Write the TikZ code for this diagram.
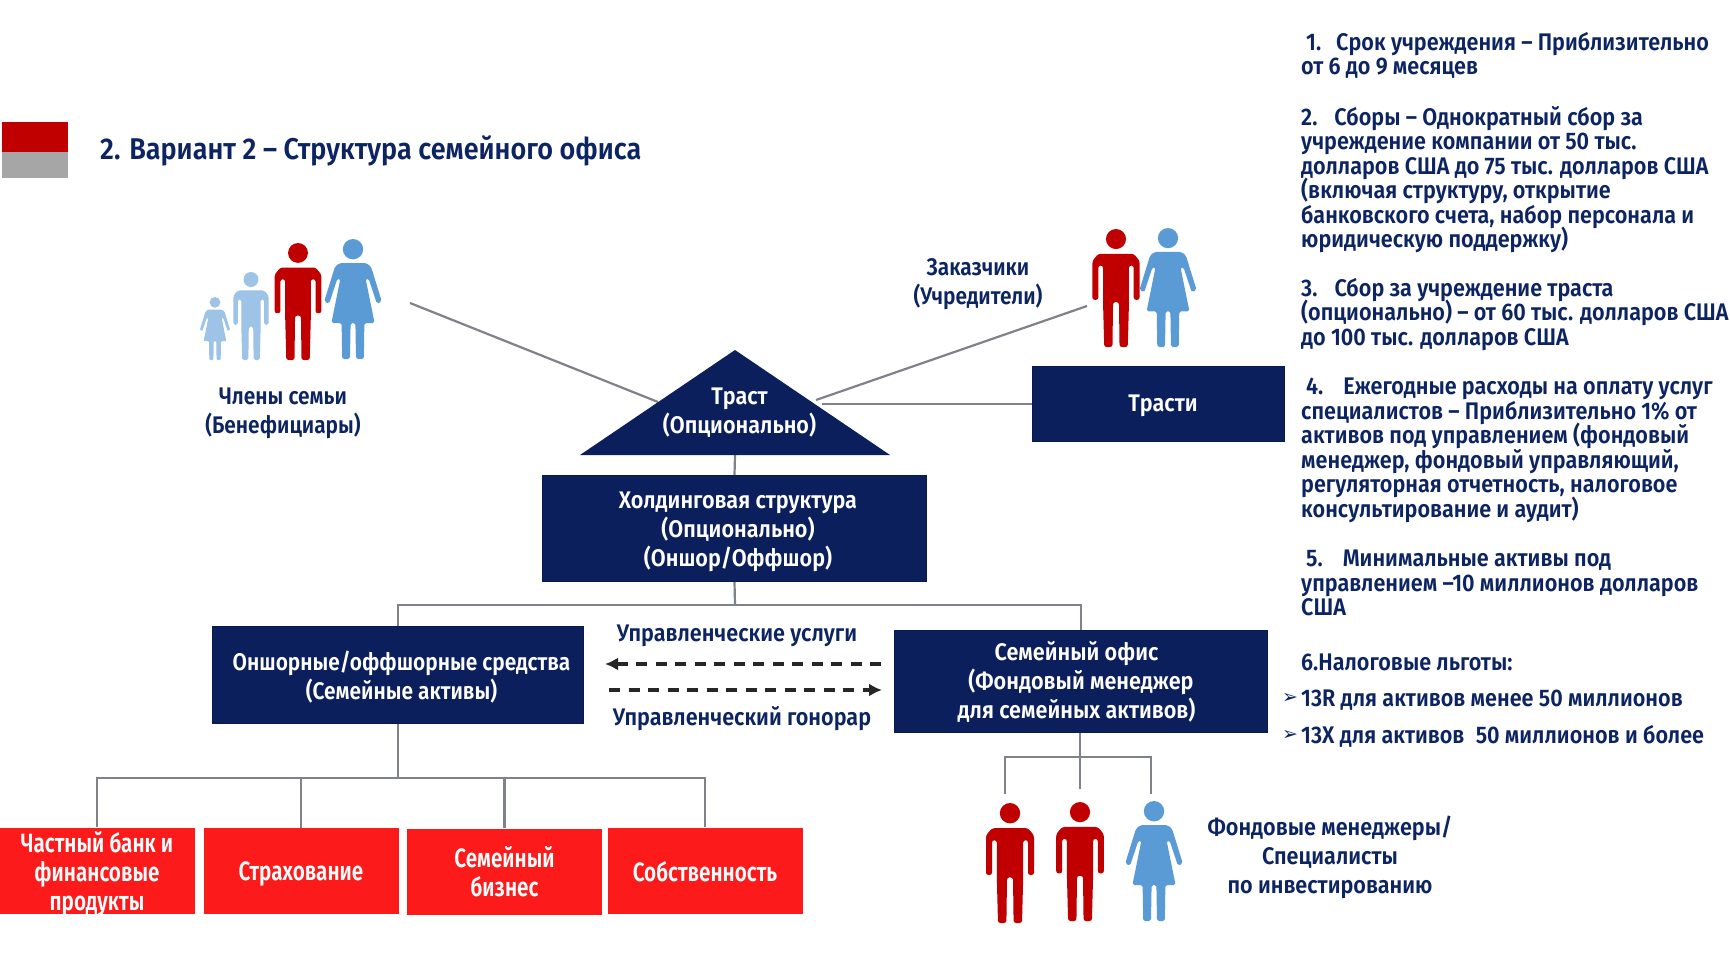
\documentclass[tikz,border=0pt]{standalone}
\usepackage{fontspec}
\setmainfont[FakeStretch=0.9]{Fira Sans SemiBold}
\newfontfamily\tightf[FakeStretch=0.87]{Fira Sans SemiBold}
\newfontfamily\narrowf[FakeStretch=0.78]{Fira Sans SemiBold}
\newfontfamily\symf{DejaVu Sans}
\usetikzlibrary{arrows.meta}
\definecolor{navy}{HTML}{0B1F5C}
\definecolor{ink}{HTML}{0C2461}
\definecolor{redbox}{HTML}{FD1A1A}
\definecolor{manred}{HTML}{C00000}
\definecolor{wblue}{HTML}{5B9BD5}
\definecolor{lblue}{HTML}{9DC3E6}
\definecolor{linkgray}{HTML}{7F8288}
\newcommand{\tallrule}[1]{\rule{0pt}{#1pt}}
\newcommand{\fixedlines}{\lineskiplimit=-20pt\relax}
\tikzset{
  navybox/.style={fill=navy,draw=navy!85!black,line width=1pt,text=white,align=center,font=\fontsize{24}{29}\selectfont\fixedlines,inner sep=0pt},
  redcard/.style={fill=redbox,text=white,align=center,font=\narrowf\fontsize{26.5}{29}\selectfont\fixedlines,inner xsep=0pt,inner ysep=-4pt,minimum height=86pt,minimum width=195pt},
  label/.style={text=ink,align=center,font=\fontsize{24}{29}\selectfont\fixedlines,inner sep=0pt},
  tightlabel/.style={label,font=\tightf\fontsize{24}{29}\selectfont\fixedlines},
  para/.style={text=ink,align=left,anchor=north west,font=\fontsize{24}{24.5}\selectfont\fixedlines,inner sep=0pt},
  link/.style={draw=linkgray,line width=2.2pt},
  dashlink/.style={draw=black!85,line width=3.4pt,dash pattern=on 11pt off 8.5pt,-{Latex[length=13pt,width=13pt]}}
}
\newcommand{\manfig}[5]{% name, x, top, bottom, colour
  \begin{scope}[shift={(#2,#3)},x=#4pt/100,y=-#4pt/100]
    \fill[#5] (0,8.5) circle (8.5);
    \fill[#5,rounded corners=#4pt*0.02] (-20,60) -- (-20,27) -- (-15,21) -- (15,21) -- (20,27) -- (20,60) -- (15,60) -- (15,31) -- (11,31) -- (11,62) -- (10,100) -- (3,100) -- (2.5,62) -- (-2.5,62) -- (-3,100) -- (-10,100) -- (-11,62) -- (-11,31) -- (-15,31) -- (-15,60) -- cycle;
    \coordinate (#1) at (0,0);
  \end{scope}}
\newcommand{\womanfig}[5]{%
  \begin{scope}[shift={(#2,#3)},x=#4pt/100,y=-#4pt/100]
    \fill[#5] (0,8.5) circle (8.5);
    \fill[#5,rounded corners=#4pt*0.015] (-11,20) -- (11,20) -- (15,23) -- (24,52) -- (20,54) -- (13,33) -- (10.5,33) -- (18,70) -- (9.5,70) -- (9,100) -- (2.5,100) -- (2,70) -- (-2,70) -- (-2.5,100) -- (-9,100) -- (-9.5,70) -- (-18,70) -- (-10.5,33) -- (-13,33) -- (-20,54) -- (-24,52) -- (-15,23) -- cycle;
    \coordinate (#1) at (0,0);
  \end{scope}}
\begin{document}
\begin{tikzpicture}[x=1pt,y=-1pt]
\useasboundingbox (0,0) rectangle (1730,974);
\fill[white] (0,0) rectangle (1730,974);
% swatch
\fill[manred] (2,122) rectangle (68,152);
\fill[black!35] (2,152) rectangle (68,178);
\node[text=ink,anchor=west,inner sep=0pt,font=\fontsize{30}{36}\selectfont] (title) at (100,151) {2. Вариант 2 – Структура семейного офиса};
% people
\womanfig{g1}{215}{297}{63}{lblue}
\manfig{b1}{251}{272}{88}{lblue}
\manfig{m1}{298}{243}{117}{manred}
\womanfig{w1}{353}{239}{120}{wblue}
\manfig{m2}{1116}{229}{118}{manred}
\womanfig{w2}{1168}{228}{119}{wblue}
\manfig{m3}{1010}{803}{120}{manred}
\manfig{m4}{1080}{802}{119}{manred}
\womanfig{w3}{1154}{801}{120}{wblue}
% boxes
\coordinate (trApex) at (735,350);
\coordinate (trL) at (580,455);
\coordinate (trR) at (890,455);
\coordinate (trBase) at (735,455);
\coordinate (famEnd) at (410,303);
\coordinate (trFam) at (658,402);
\coordinate (cliEnd) at (1087,306);
\coordinate (trCli) at (816,400);
\coordinate (trTr) at (822,404);
\node[navybox,minimum width=384pt,minimum height=106pt] (hold) at (734.5,528.5) {\tallrule{24}\hspace*{7pt}Холдинговая структура\\\hspace*{7pt}(Опционально)\\\hspace*{7pt}(Оншор/Оффшор)};
\node[navybox,minimum width=252pt,minimum height=75pt] (trustee) at (1158,404) {\tallrule{20}\hspace*{10pt}Трасти};
\node[navybox,minimum width=371pt,minimum height=97pt,font=\tightf\fontsize{24}{29}\selectfont\fixedlines] (onsh) at (398,675) {\tallrule{23}\hspace*{7pt}Оншорные/оффшорные средства\\\hspace*{7pt}(Семейные активы)};
\node[navybox,minimum width=373pt,minimum height=102pt] (office) at (1081,681.5) {Семейный офис\hspace*{9pt}\\(Фондовый менеджер\hspace*{9pt}\\для семейных активов)\hspace*{9pt}};
\node[redcard] (bank) at (97,870.5) {\tallrule{27}Частный банк и\\финансовые\\продукты};
\node[redcard] (ins) at (301,871) {\tallrule{24}Страхование};
\node[redcard] (biz) at (504.5,871.5) {Семейный\\бизнес};
\node[redcard] (prop) at (705,870.5) {\tallrule{22}Собственность};
% connectors
\draw[link] (famEnd) -- (trFam);
\draw[link] (cliEnd) -- (trCli);
\draw[link] (trTr) -- (trustee.west);
\draw[link] (trBase) -- (hold.north);
\coordinate (busA) at (735,605);
\draw[link] (hold.south) -- (busA);
\draw[link] (onsh.north) |- (busA);
\draw[link] (office.north) |- (busA);
\coordinate (busB) at (398,778);
\draw[link] (onsh.south) -- (busB);
\draw[link] (bank.north) |- (busB);
\draw[link] (ins.north) |- (busB);
\draw[link] (biz.north) |- (busB);
\draw[link] (prop.north) |- (busB);
\coordinate (busC) at (1080,757);
\coordinate (e1) at (1005,794);
\coordinate (e2) at (1080,789);
\coordinate (e3) at (1151,794);
\draw[link] (office.south -| busC) -- (busC);
\draw[link] (e1) |- (busC);
\draw[link] (e2) -- (busC);
\draw[link] (e3) |- (busC);
% triangle
\fill[navy] (trApex) -- (trR) -- (trL) -- cycle;
\node[navybox,fill=none,draw=none] (trust) at (739.5,412.5) {Траст\\(Опционально)};
% dashed
\coordinate (aR) at (881,664);
\coordinate (aL) at (605,664);
\coordinate (bL) at (609,690);
\coordinate (bR) at (882,690);
\draw[dashlink] (aR) -- (aL);
\draw[dashlink] (bL) -- (bR);
% labels
\node[tightlabel] (lfam) at (283,413) {Члены семьи\\(Бенефициары)};
\node[tightlabel] (lcli) at (978,284) {Заказчики\\(Учредители)};
\node[label] (lsvc) at (737,636) {Управленческие услуги};
\node[label] (lfee) at (742,719) {Управленческий гонорар};
\node[label] (lmgr) at (1330,857) {Фондовые менеджеры/\\Специалисты\\по инвестированию};
% right panel
\node[para] (p1) at (1301,32) {\hspace*{5pt}1.\hspace{15pt}Срок учреждения – Приблизительно\\от 6 до 9 месяцев};
\node[para] (p2) at (1301,106) {2.\hspace{17pt}Сборы – Однократный сбор за\\учреждение компании от 50 тыс.\\долларов США до 75 тыс. долларов США\\(включая структуру, открытие\\банковского счета, набор персонала и\\юридическую поддержку)};
\node[para] (p3) at (1301,278) {3.\hspace{17pt}Сбор за учреждение траста\\(опционально) – от 60 тыс. долларов США\\до 100 тыс. долларов США};
\node[para] (p4) at (1301,378) {\hspace*{5pt}4.\hspace{20pt}Ежегодные расходы на оплату услуг\\специалистов – Приблизительно 1\% от\\активов под управлением (фондовый\\менеджер, фондовый управляющий,\\регуляторная отчетность, налоговое\\консультирование и аудит)};
\node[para] (p5) at (1301,550) {\hspace*{5pt}5.\hspace{20pt}Минимальные активы под\\управлением –10 миллионов долларов\\США};
\node[para] (p6) at (1301,654) {6.Налоговые льготы:};
\node[para] (p7) at (1301,690) {13R для активов менее 50 миллионов};
\node[para] (p8) at (1301,725) {13X для активов\hspace{6pt} 50 миллионов и более};
\node[text=ink,inner sep=0pt,font=\symf\fontsize{19}{19}\selectfont] (s1) at (1290,698) {➢};
\node[text=ink,inner sep=0pt,font=\symf\fontsize{19}{19}\selectfont] (s2) at (1290,735) {➢};
\end{tikzpicture}
\end{document}
